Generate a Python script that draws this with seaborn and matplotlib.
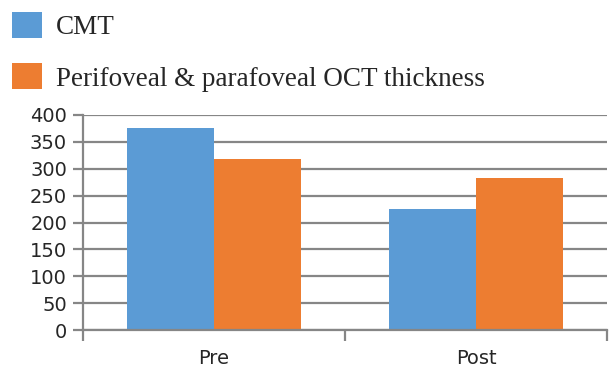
import pandas as pd
import numpy as np
import matplotlib.pyplot as plt
import seaborn as sns
from matplotlib.ticker import FixedLocator

# values
phases = ['Pre', 'Post']
cmt = [376, 226]
perifoveal = [318, 283]
series_names = ['CMT', 'Perifoveal & parafoveal OCT thickness']
colors = ['#5B9BD5', '#ED7D31']

df = pd.DataFrame({
    'phase': phases * 2,
    'value': cmt + perifoveal,
    'series': [series_names[0]] * 2 + [series_names[1]] * 2,
})

sns.set_style('white')
plt.rcParams['font.family'] = ['DejaVu Sans']

fig = plt.figure(figsize=(6.09, 3.74), dpi=100)
ax = fig.add_axes([83 / 609, 44 / 374, 524 / 609, 215 / 374])

sns.barplot(data=df, x='phase', y='value', hue='series', order=phases,
            hue_order=series_names, palette=colors, width=0.664,
            saturation=1, linewidth=0, ax=ax, legend=True)

grid_col = '#868686'
ax.set_ylim(0, 400)
ax.set_xlim(-0.5, 1.5)
ax.set_yticks(np.arange(0, 401, 50))
ax.yaxis.grid(True, color=grid_col, linewidth=1.6)
ax.set_axisbelow(True)
ax.tick_params(axis='y', length=7.5, width=1.6, color=grid_col, pad=4,
               labelsize=14, left=True)
ax.tick_params(axis='x', which='major', length=0, pad=14, labelsize=14)
ax.xaxis.set_minor_locator(FixedLocator([-0.5, 0.5, 1.5]))
ax.tick_params(axis='x', which='minor', length=8, width=1.6, color=grid_col,
               bottom=True)
for s in ['top', 'right']:
    ax.spines[s].set_visible(False)
for s in ['left', 'bottom']:
    ax.spines[s].set_color(grid_col)
    ax.spines[s].set_linewidth(1.6)
ax.set_xlabel('')
ax.set_ylabel('')

handles, labels = ax.get_legend_handles_labels()
ax.get_legend().remove()
fig.legend(handles, labels, loc='upper left', bbox_to_anchor=(0.0, 1.0),
           frameon=False, prop={'family': 'Liberation Serif', 'size': 19.5},
           handlelength=1.1, handleheight=1.1, handletextpad=0.5,
           labelspacing=0.85, borderpad=0.25, borderaxespad=0.2)

plt.savefig('out.png', dpi=100)
